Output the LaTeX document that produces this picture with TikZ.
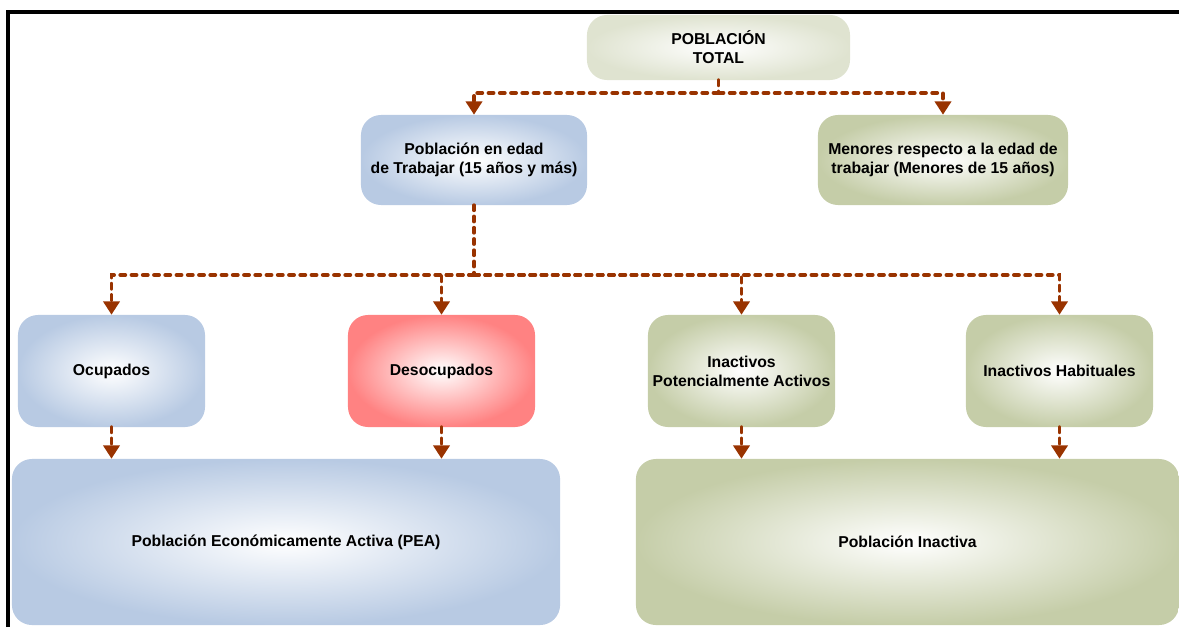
\documentclass[tikz,border=0pt]{standalone}
\usepackage{fontspec}
\setmainfont{Liberation Sans}
\usetikzlibrary{arrows.meta}
\definecolor{azul}{HTML}{B8CAE3}
\definecolor{oliva}{HTML}{C5CDA8}
\definecolor{rojo}{HTML}{FF8282}
\definecolor{gris}{HTML}{DFE3D0}
\definecolor{flecha}{HTML}{993300}
\begin{document}
\begin{tikzpicture}[x=0.025cm, y=-0.025cm,
    caja/.style={rounded corners=0.5cm, inner color=white, align=center, inner sep=0pt,
        font=\fontsize{11.2}{13.5}\selectfont\bfseries},
    chica/.style={caja, minimum width=4.675cm, minimum height=2.8cm},
    grande/.style={caja, minimum height=4.15cm},
    linea/.style={draw=flecha, line width=2.8pt, line cap=round, dash pattern=on 3.5pt off 4.5pt},
    punta/.style={-{Triangle[length=9.5pt 0, width=11.5pt 0]}, flecha}]
    \useasboundingbox (0,0) rectangle (1179,627);
    % marco
    \draw[line width=0.1cm] (8,627) -- (8,11.5) -- (1179,11.5);
    % niveles superiores
    \node[caja, outer color=gris, minimum width=6.575cm, minimum height=1.625cm] (total) at (718.5,47.5) {POBLACIÓN\\TOTAL};
    \node[caja, outer color=azul, minimum width=5.65cm, minimum height=2.25cm] (edad) at (474,160) {Población en edad\\de Trabajar (15 años y más)};
    \node[caja, outer color=oliva, minimum width=6.25cm, minimum height=2.25cm] (menores) at (943,160) {Menores respecto a la edad de\\trabajar (Menores de 15 años)};
    % condicion de actividad
    \node[chica, outer color=azul] (ocup) at (111.5,371) {Ocupados};
    \node[chica, outer color=rojo] (desocup) at (441.5,371) {Desocupados};
    \node[chica, outer color=oliva] (potenc) at (741.5,371) {Inactivos\\Potencialmente Activos};
    \node[chica, outer color=oliva] (habit) at (1059.5,371) {Inactivos Habituales};
    \node[grande, outer color=azul, minimum width=13.7cm] (pea) at (286,542) {Población Económicamente Activa (PEA)};
    \node[grande, outer color=oliva, minimum width=13.575cm] (inact) at (907.5,542) {Población Inactiva};
    % conectores
    \coordinate (j1) at (718.5,93);
    \coordinate (j2) at (474,275);
    \draw[linea] (total.south) -- (j1);
    \draw[linea] (edad.south) -- (j2);
    \foreach \hijo in {edad, menores}
        \draw[linea, punta] (j1) -| (\hijo.north);
    \foreach \hijo in {ocup, desocup, potenc, habit}
        \draw[linea, punta] (j2) -| (\hijo.north);
    \foreach \hijo/\grupo in {ocup/pea, desocup/pea, potenc/inact, habit/inact}
        \draw[linea, punta] (\hijo.south) -- (\hijo.south |- \grupo.north);
\end{tikzpicture}
\end{document}
